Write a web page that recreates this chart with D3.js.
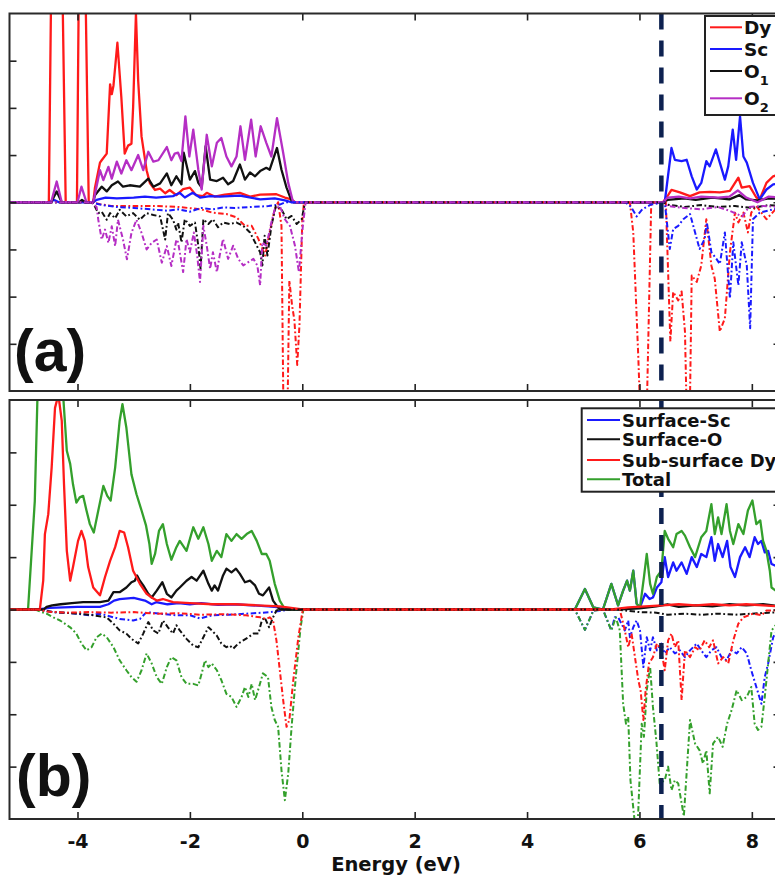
<!DOCTYPE html>
<html>
<head>
<meta charset="utf-8">
<script src="https://cdn.jsdelivr.net/npm/d3@7"></script>
<style>
  html, body { margin: 0; padding: 0; background: #fff; }
  svg { display: block; }
  text { font-family: "DejaVu Sans", "Liberation Sans", sans-serif; font-weight: bold; fill: #111; }
</style>
</head>
<body>
<svg id="chart" width="775" height="876"></svg>
<script>
// ---------- data: [energy (eV), DOS] pairs ----------
// Panel (a): spin up (solid) and spin down (dash-dot)
const dyUpA = [[-5.2,0],[-4.51,0],[-4.46,5.5],[-4.28,5.5],[-4.21,0],[-4.01,0],[-3.97,5.5],[-3.87,5.5],[-3.80,0],[-3.72,0],[-3.69,0.3],[-3.60,0.84],[-3.57,0.89],[-3.48,1.03],[-3.42,2.5],[-3.39,2.29],[-3.36,2.47],[-3.29,3.38],[-3.22,2.23],[-3.16,1.03],[-3.10,1.2],[-3.04,1.24],[-3.01,2.02],[-2.96,4.0],[-2.92,2.57],[-2.86,1.39],[-2.77,0.68],[-2.71,0.4],[-2.62,0.26],[-2.53,0.29],[-2.44,0.19],[-2.36,0.26],[-2.24,0.15],[-2.12,0.28],[-2.0,0.31],[-1.89,0.15],[-1.77,0.13],[-1.70,0.2],[-1.56,0.12],[-1.38,0.16],[-1.11,0.2],[-0.93,0.12],[-0.75,0.16],[-0.46,0.17],[-0.31,0.1],[-0.19,0.06],[-0.13,0],[6.42,0],[6.51,0.15],[6.57,0.26],[6.72,0.21],[6.90,0.13],[7.07,0.21],[7.25,0.22],[7.43,0.21],[7.61,0.24],[7.76,0.52],[7.82,0.31],[7.96,0.34],[8.08,0.1],[8.14,0.06],[8.26,0.41],[8.38,0.55],[8.5,0.6]];
const scUpA = [[-5.2,0],[-4.5,0],[-4.42,0.05],[-4.33,0],[-3.72,0],[-3.66,0.05],[-3.5,0.1],[-3.3,0.08],[-3.0,0.1],[-2.8,0.12],[-2.6,0.1],[-2.3,0.13],[-2.18,0.2],[-2.09,0.1],[-1.95,0.2],[-1.82,0.1],[-1.64,0.13],[-1.47,0.12],[-1.11,0.14],[-0.75,0.06],[-0.49,0.08],[-0.31,0.04],[-0.19,0],[6.45,0],[6.57,1.15],[6.63,0.9],[6.75,0.87],[6.84,0.9],[6.93,0.55],[7.02,0.27],[7.10,0.41],[7.19,0.87],[7.25,0.76],[7.36,1.12],[7.43,0.84],[7.52,0.48],[7.58,0.76],[7.66,1.54],[7.72,0.9],[7.79,1.82],[7.85,0.97],[7.91,0.84],[8.02,0.41],[8.14,0.06],[8.26,0.27],[8.38,0.38],[8.5,0.4]];
const o1UpA = [[-5.2,0],[-4.47,0],[-4.37,0.23],[-4.28,0],[-3.97,0],[-3.92,0.05],[-3.86,0],[-3.72,0],[-3.69,0.15],[-3.57,0.33],[-3.48,0.23],[-3.39,0.36],[-3.28,0.44],[-3.19,0.33],[-3.07,0.36],[-2.89,0.33],[-2.74,0.5],[-2.65,0.33],[-2.53,0.4],[-2.41,0.61],[-2.33,0.36],[-2.24,0.55],[-2.15,0.38],[-2.11,1.05],[-2.0,0.48],[-1.91,0.66],[-1.85,0.41],[-1.79,0.31],[-1.72,1.19],[-1.64,0.48],[-1.52,0.45],[-1.41,0.52],[-1.32,0.38],[-1.23,0.45],[-1.11,0.8],[-1.02,0.48],[-0.93,0.63],[-0.84,0.55],[-0.75,0.66],[-0.64,0.73],[-0.58,0.69],[-0.45,1.15],[-0.37,0.69],[-0.28,0.31],[-0.19,0.03],[-0.15,0],[6.42,0],[6.5,0.05],[6.8,0.08],[7.0,0.05],[7.3,0.1],[7.6,0.06],[7.78,0.15],[7.9,0.06],[8.1,0.04],[8.3,0.08],[8.5,0.08]];
const o2UpA = [[-5.2,0],[-4.47,0],[-4.37,0.44],[-4.28,0],[-4.0,0],[-3.93,0.33],[-3.84,0],[-3.72,0],[-3.60,0.68],[-3.54,0.47],[-3.45,0.75],[-3.39,0.5],[-3.30,0.86],[-3.22,0.61],[-3.13,0.89],[-3.04,0.68],[-2.92,1.0],[-2.83,0.68],[-2.74,1.07],[-2.65,0.86],[-2.56,0.89],[-2.41,1.17],[-2.33,0.89],[-2.27,1.03],[-2.21,1.05],[-2.15,0.87],[-2.08,1.82],[-2.01,0.97],[-1.94,1.54],[-1.85,0.69],[-1.79,0.27],[-1.70,1.43],[-1.61,0.76],[-1.52,1.26],[-1.44,1.36],[-1.35,0.97],[-1.26,0.76],[-1.17,0.97],[-1.10,1.61],[-1.02,0.9],[-0.91,1.75],[-0.83,0.97],[-0.74,1.61],[-0.64,1.26],[-0.55,0.97],[-0.45,1.78],[-0.34,1.05],[-0.25,0.41],[-0.17,0.03],[-0.14,0],[6.42,0],[6.5,0.1],[6.7,0.12],[6.9,0.08],[7.1,0.12],[7.4,0.1],[7.6,0.12],[7.75,0.25],[7.9,0.1],[8.1,0.0],[8.3,0.12],[8.5,0.1]];
const dyDnA = [[-5.2,0],[-3.75,0],[-3.6,-0.04],[-3.4,-0.08],[-3.0,-0.08],[-2.6,-0.08],[-2.2,-0.1],[-1.8,-0.15],[-1.6,-0.22],[-1.35,-0.25],[-1.17,-0.32],[-1.02,-0.5],[-0.9,-0.5],[-0.78,-0.78],[-0.66,-1.13],[-0.58,-0.64],[-0.49,-0.15],[-0.43,0],[-0.37,-0.5],[-0.33,-5],[-0.27,-5],[-0.23,-1.66],[-0.18,-2.2],[-0.14,-2.5],[-0.09,-3.45],[-0.05,-2.6],[0.0,-0.4],[0.03,0],[5.83,0],[5.89,-0.64],[5.98,-3.3],[6.03,-5],[6.12,-5],[6.21,0],[6.47,0],[6.55,-2.95],[6.60,-1.9],[6.69,-2.08],[6.75,-1.89],[6.81,-2.74],[6.85,-5],[6.89,-5],[6.93,-1.55],[7.02,-1.69],[7.10,-1.34],[7.19,-0.36],[7.28,-1.34],[7.34,-1.62],[7.43,-2.74],[7.52,-2.46],[7.61,-1.06],[7.70,-0.22],[7.76,-0.43],[7.85,-0.22],[7.93,-0.64],[7.99,-0.22],[8.08,-0.08],[8.26,-0.36],[8.42,-0.15],[8.5,-0.1]];
const scDnA = [[-5.2,0],[-3.75,0],[-3.6,-0.05],[-3.3,-0.1],[-3.0,-0.12],[-2.7,-0.15],[-2.4,-0.18],[-2.2,-0.15],[-2.0,-0.2],[-1.8,-0.12],[-1.6,-0.15],[-1.4,-0.11],[-1.2,-0.12],[-0.9,-0.1],[-0.6,-0.08],[-0.4,-0.05],[-0.3,0],[5.75,0],[5.85,-0.1],[5.95,-0.3],[6.05,-0.15],[6.2,-0.05],[6.45,0],[6.54,-0.99],[6.60,-0.57],[6.69,-0.5],[6.78,-0.36],[6.90,-0.25],[6.99,-0.64],[7.07,-0.99],[7.16,-0.78],[7.20,-0.43],[7.28,-1.06],[7.37,-1.2],[7.43,-1.31],[7.52,-0.64],[7.61,-2.04],[7.67,-0.85],[7.76,-1.76],[7.82,-0.85],[7.91,-1.34],[7.97,-2.67],[8.02,-0.36],[8.14,-0.22],[8.38,-0.15],[8.5,-0.12]];
const o1DnA = [[-5.2,0],[-3.75,0],[-3.69,-0.09],[-3.63,-0.23],[-3.57,-0.2],[-3.48,-0.37],[-3.42,-0.23],[-3.33,-0.34],[-3.25,-0.16],[-3.13,-0.3],[-3.01,-0.23],[-2.89,-0.37],[-2.77,-0.23],[-2.65,-0.27],[-2.53,-0.3],[-2.44,-0.79],[-2.39,-0.23],[-2.30,-0.37],[-2.24,-0.58],[-2.21,-0.43],[-2.15,-0.85],[-2.09,-0.36],[-2.0,-0.5],[-1.91,-0.43],[-1.85,-0.92],[-1.81,-1.41],[-1.76,-0.36],[-1.67,-0.46],[-1.59,-0.36],[-1.50,-0.53],[-1.41,-0.43],[-1.29,-0.46],[-1.17,-0.43],[-1.05,-0.5],[-0.93,-0.64],[-0.81,-0.92],[-0.75,-1.06],[-0.71,-1.34],[-0.67,-0.71],[-0.62,-1.13],[-0.55,-0.5],[-0.47,-0.08],[-0.37,-0.15],[-0.28,-0.36],[-0.19,-0.29],[-0.10,-0.46],[-0.01,-0.36],[0.05,0],[6.42,0],[6.5,-0.05],[6.8,-0.1],[7.1,-0.06],[7.4,-0.1],[7.7,-0.08],[8.0,-0.12],[8.3,-0.06],[8.5,-0.08]];
const o2DnA = [[-5.2,0],[-3.75,0],[-3.66,-0.1],[-3.63,-0.37],[-3.57,-0.79],[-3.51,-0.58],[-3.45,-0.86],[-3.39,-0.51],[-3.33,-0.93],[-3.28,-0.37],[-3.19,-0.79],[-3.12,-1.21],[-3.04,-0.65],[-2.95,-0.37],[-2.86,-0.65],[-2.77,-1.0],[-2.68,-0.86],[-2.59,-0.79],[-2.50,-1.28],[-2.41,-0.93],[-2.33,-1.35],[-2.24,-0.79],[-2.21,-0.85],[-2.12,-1.48],[-2.06,-0.78],[-2.0,-1.06],[-1.93,-0.64],[-1.87,-1.13],[-1.82,-1.69],[-1.76,-0.5],[-1.70,-0.92],[-1.64,-1.41],[-1.59,-1.06],[-1.52,-1.48],[-1.47,-1.13],[-1.41,-0.78],[-1.32,-1.2],[-1.23,-0.92],[-1.14,-1.2],[-1.05,-1.34],[-0.96,-1.27],[-0.87,-1.2],[-0.80,-1.34],[-0.75,-1.76],[-0.71,-0.85],[-0.64,-0.92],[-0.55,-0.43],[-0.49,-0.15],[-0.40,-0.08],[-0.31,-0.36],[-0.22,-0.5],[-0.13,-0.92],[-0.06,-1.48],[0.01,-0.5],[0.06,0],[6.42,0],[6.5,-0.08],[6.8,-0.12],[7.1,-0.15],[7.4,-0.1],[7.6,-0.18],[7.83,-0.3],[7.95,-0.1],[8.2,-0.08],[8.5,-0.1]];

// Panel (b): spin up (solid) and spin down (dash-dot)
const scUpB = [[-5.2,0],[-4.7,0],[-4.5,0.03],[-4.0,0.05],[-3.6,0.05],[-3.45,0.1],[-3.35,0.17],[-3.25,0.2],[-3.0,0.22],[-2.8,0.17],[-2.68,0.1],[-2.6,0.14],[-2.4,0.1],[-2.2,0.12],[-2.0,0.1],[-1.8,0.12],[-1.5,0.09],[-1.2,0.1],[-0.9,0.08],[-0.6,0.06],[-0.4,0.04],[-0.25,0.02],[-0.1,0],[4.85,0],[5.03,0.39],[5.18,0.04],[5.35,0],[5.50,0.49],[5.62,0.08],[5.71,0.36],[5.78,0.55],[5.83,0.36],[5.89,0.74],[5.95,0.11],[6.01,0.04],[6.1,0.3],[6.18,0.2],[6.24,0.23],[6.31,0.42],[6.39,0.52],[6.45,1.0],[6.51,0.62],[6.60,0.9],[6.66,0.74],[6.75,0.9],[6.84,0.68],[6.93,1.0],[7.02,0.81],[7.10,1.06],[7.19,1.0],[7.28,1.38],[7.34,0.93],[7.40,1.25],[7.48,1.0],[7.56,1.31],[7.62,0.81],[7.70,0.62],[7.79,1.0],[7.88,1.19],[7.96,1.0],[8.05,1.38],[8.11,1.25],[8.17,1.31],[8.23,1.09],[8.29,1.12],[8.35,0.87],[8.5,0.8]];
const oUpB = [[-5.2,0],[-4.6,0],[-4.55,0.05],[-4.45,0.08],[-4.3,0.1],[-4.1,0.12],[-3.9,0.14],[-3.6,0.14],[-3.45,0.17],[-3.36,0.33],[-3.25,0.33],[-3.13,0.42],[-3.04,0.52],[-2.98,0.55],[-2.94,0.65],[-2.89,0.55],[-2.83,0.46],[-2.74,0.3],[-2.68,0.23],[-2.59,0.36],[-2.49,0.52],[-2.41,0.3],[-2.33,0.23],[-2.24,0.36],[-2.18,0.42],[-2.06,0.55],[-1.97,0.62],[-1.88,0.55],[-1.76,0.74],[-1.67,0.49],[-1.61,0.36],[-1.56,0.46],[-1.50,0.36],[-1.41,0.65],[-1.35,0.78],[-1.26,0.71],[-1.18,0.78],[-1.11,0.68],[-1.02,0.52],[-0.93,0.55],[-0.84,0.46],[-0.77,0.3],[-0.70,0.27],[-0.59,0.42],[-0.52,0.17],[-0.46,0.08],[-0.4,0],[5.6,0],[6.0,0.02],[6.3,0.06],[6.5,0.1],[6.7,0.05],[7.0,0.08],[7.3,0.06],[7.6,0.1],[7.9,0.08],[8.2,0.1],[8.5,0.06]];
const dyUpB = [[-5.2,0],[-4.67,0],[-4.61,0.55],[-4.58,1.44],[-4.52,1.82],[-4.46,2.71],[-4.40,3.85],[-4.34,4.1],[-4.28,3.6],[-4.24,2.39],[-4.19,1.12],[-4.13,0.55],[-4.08,0.81],[-3.99,1.31],[-3.93,1.5],[-3.87,1.31],[-3.81,0.81],[-3.72,0.42],[-3.60,0.27],[-3.51,0.62],[-3.42,0.93],[-3.33,1.19],[-3.25,1.5],[-3.17,1.47],[-3.10,1.19],[-3.01,0.74],[-2.89,0.49],[-2.77,0.3],[-2.68,0.23],[-2.59,0.17],[-2.48,0.2],[-2.30,0.14],[-2.0,0.12],[-1.6,0.1],[-1.2,0.1],[-0.8,0.08],[-0.4,0.06],[-0.2,0.03],[0.0,0],[5.5,0],[5.8,0.04],[6.1,0.06],[6.4,0.08],[6.7,0.1],[7.0,0.08],[7.3,0.1],[7.6,0.08],[7.9,0.1],[8.2,0.08],[8.5,0.06]];
const totUpB = [[-5.2,0],[-4.88,0],[-4.76,2.07],[-4.69,5],[-4.3,5],[-4.25,4.0],[-4.19,3.03],[-4.13,2.78],[-4.08,2.39],[-4.02,2.04],[-3.96,2.14],[-3.90,2.17],[-3.84,1.89],[-3.78,1.63],[-3.71,1.47],[-3.63,1.89],[-3.54,2.36],[-3.47,2.17],[-3.41,2.08],[-3.33,2.71],[-3.25,3.6],[-3.20,3.92],[-3.13,3.47],[-3.04,2.58],[-2.95,2.2],[-2.86,1.89],[-2.78,1.6],[-2.72,1.25],[-2.68,0.87],[-2.62,1.06],[-2.55,1.5],[-2.48,1.63],[-2.41,1.25],[-2.33,0.95],[-2.24,1.19],[-2.18,1.31],[-2.06,1.12],[-1.94,1.57],[-1.85,1.35],[-1.76,1.57],[-1.67,1.25],[-1.61,0.93],[-1.52,1.12],[-1.44,1.0],[-1.35,1.44],[-1.26,1.31],[-1.17,1.44],[-1.08,1.35],[-0.99,1.44],[-0.90,1.5],[-0.81,1.31],[-0.72,1.06],[-0.64,1.06],[-0.58,0.93],[-0.49,0.49],[-0.40,0.17],[-0.31,0.01],[-0.25,0],[4.85,0],[5.03,0.39],[5.18,0.04],[5.35,0],[5.50,0.49],[5.62,0.08],[5.71,0.36],[5.78,0.55],[5.83,0.36],[5.89,0.74],[5.95,0.11],[6.01,0.04],[6.08,0.62],[6.13,1.06],[6.19,0.49],[6.24,0.3],[6.31,0.62],[6.39,0.74],[6.45,1.5],[6.51,1.35],[6.60,1.19],[6.66,1.44],[6.75,1.5],[6.81,1.41],[6.90,1.19],[6.99,1.0],[7.10,1.38],[7.19,1.5],[7.28,2.01],[7.34,1.44],[7.40,1.76],[7.46,1.44],[7.55,2.01],[7.61,1.5],[7.67,1.25],[7.76,1.63],[7.85,1.44],[7.93,1.89],[8.01,2.08],[8.08,1.63],[8.15,1.7],[8.20,1.31],[8.26,1.12],[8.32,0.74],[8.35,0.42],[8.5,0.3]];
const scDnB = [[-5.2,0],[-4.7,0],[-4.55,-0.03],[-4.43,-0.05],[-4.0,-0.08],[-3.78,-0.11],[-3.6,-0.08],[-3.25,-0.18],[-3.01,-0.21],[-2.89,-0.18],[-2.77,-0.05],[-2.53,-0.08],[-2.24,-0.11],[-2.0,-0.11],[-1.82,-0.17],[-1.6,-0.11],[-1.3,-0.1],[-1.0,-0.08],[-0.7,-0.06],[-0.4,-0.03],[-0.2,0],[4.85,0],[5.03,-0.39],[5.18,-0.02],[5.35,0],[5.50,-0.4],[5.56,-0.15],[5.62,-0.15],[5.68,-0.27],[5.74,-0.4],[5.80,-0.21],[5.83,-0.53],[5.89,-0.34],[5.95,-0.21],[6.01,-0.4],[6.07,-1.1],[6.13,-0.53],[6.19,-0.78],[6.24,-0.53],[6.31,-0.78],[6.39,-0.65],[6.45,-0.84],[6.54,-0.72],[6.63,-0.84],[6.72,-0.78],[6.81,-0.91],[6.90,-0.78],[7.02,-0.65],[7.10,-0.78],[7.19,-0.91],[7.28,-0.78],[7.37,-0.72],[7.46,-0.91],[7.55,-0.97],[7.64,-0.78],[7.73,-0.84],[7.82,-0.72],[7.91,-0.84],[7.99,-1.16],[8.08,-1.48],[8.17,-1.8],[8.23,-1.29],[8.29,-1.03],[8.38,-0.53],[8.5,-0.3]];
const oDnB = [[-5.2,0],[-4.7,0],[-4.43,-0.05],[-3.96,-0.08],[-3.72,-0.11],[-3.48,-0.15],[-3.36,-0.27],[-3.25,-0.4],[-3.13,-0.46],[-3.04,-0.56],[-2.92,-0.65],[-2.83,-0.46],[-2.74,-0.24],[-2.65,-0.4],[-2.56,-0.46],[-2.48,-0.21],[-2.39,-0.34],[-2.30,-0.46],[-2.24,-0.3],[-2.18,-0.4],[-2.06,-0.56],[-1.94,-0.69],[-1.85,-0.72],[-1.76,-0.53],[-1.67,-0.34],[-1.61,-0.4],[-1.52,-0.5],[-1.44,-0.65],[-1.35,-0.72],[-1.29,-0.69],[-1.23,-0.75],[-1.14,-0.65],[-1.05,-0.59],[-0.96,-0.53],[-0.87,-0.46],[-0.78,-0.46],[-0.72,-0.21],[-0.67,-0.15],[-0.59,-0.34],[-0.52,-0.15],[-0.46,-0.02],[-0.4,0],[5.6,0],[6.0,-0.05],[6.3,-0.06],[6.5,-0.1],[6.8,-0.08],[7.1,-0.1],[7.4,-0.08],[7.7,-0.1],[8.0,-0.08],[8.3,-0.06],[8.5,-0.05]];
const dyDnB = [[-5.2,0],[-4.7,0],[-4.55,-0.04],[-4.2,-0.06],[-3.8,-0.05],[-3.4,-0.06],[-3.0,-0.05],[-2.6,-0.08],[-2.2,-0.07],[-1.8,-0.1],[-1.4,-0.09],[-1.0,-0.11],[-0.75,-0.15],[-0.64,-0.18],[-0.58,-0.15],[-0.52,-0.21],[-0.46,-0.59],[-0.40,-1.16],[-0.34,-1.73],[-0.28,-2.24],[-0.23,-2.11],[-0.16,-1.35],[-0.07,-0.53],[0.01,0],[5.65,0],[5.74,-0.4],[5.80,-0.72],[5.86,-0.46],[5.92,-0.91],[5.98,-1.35],[6.02,-1.54],[6.07,-2.11],[6.11,-1.54],[6.17,-1.03],[6.24,-0.91],[6.31,-0.65],[6.39,-0.78],[6.45,-1.16],[6.51,-0.59],[6.57,-0.46],[6.63,-0.72],[6.69,-0.59],[6.75,-1.73],[6.81,-0.78],[6.90,-0.91],[6.99,-0.72],[7.07,-0.78],[7.16,-0.59],[7.24,-0.72],[7.31,-0.59],[7.40,-1.03],[7.49,-0.91],[7.58,-1.03],[7.67,-0.59],[7.76,-0.27],[7.85,-0.15],[8.02,-0.08],[8.17,-0.11],[8.26,-0.02],[8.5,-0.02]];
const totDnB = [[-5.2,0],[-4.75,0],[-4.64,-0.05],[-4.55,-0.08],[-4.43,-0.15],[-4.31,-0.21],[-4.13,-0.34],[-4.02,-0.46],[-3.93,-0.65],[-3.84,-0.78],[-3.75,-0.72],[-3.66,-0.53],[-3.57,-0.46],[-3.48,-0.53],[-3.36,-0.72],[-3.25,-0.97],[-3.13,-1.16],[-3.04,-1.29],[-2.95,-1.38],[-2.86,-1.16],[-2.77,-0.84],[-2.68,-1.03],[-2.59,-1.29],[-2.50,-1.42],[-2.41,-1.1],[-2.33,-0.91],[-2.24,-0.97],[-2.15,-1.29],[-2.06,-1.42],[-1.94,-1.42],[-1.85,-1.45],[-1.79,-1.22],[-1.73,-0.97],[-1.67,-1.1],[-1.61,-1.03],[-1.52,-1.16],[-1.44,-1.35],[-1.35,-1.61],[-1.26,-1.67],[-1.17,-1.86],[-1.08,-1.67],[-1.02,-1.48],[-0.96,-1.67],[-0.90,-1.42],[-0.84,-1.73],[-0.77,-1.48],[-0.70,-1.22],[-0.61,-1.29],[-0.55,-1.86],[-0.49,-2.11],[-0.43,-2.24],[-0.37,-3.07],[-0.31,-3.64],[-0.25,-3.13],[-0.19,-2.24],[-0.11,-1.22],[-0.03,-0.34],[0.02,0],[4.85,0],[5.03,-0.39],[5.18,-0.02],[5.35,0],[5.50,-0.4],[5.58,-0.15],[5.65,-0.4],[5.71,-1.8],[5.76,-2.18],[5.80,-2.05],[5.84,-3.26],[5.92,-4.1],[5.97,-4.1],[6.04,-2.18],[6.08,-2.43],[6.13,-1.54],[6.19,-1.1],[6.24,-1.86],[6.30,-2.5],[6.36,-3.32],[6.45,-3.26],[6.51,-3.0],[6.57,-3.45],[6.63,-3.26],[6.69,-3.32],[6.79,-3.95],[6.90,-2.11],[6.99,-2.56],[7.07,-2.69],[7.13,-2.94],[7.19,-2.69],[7.25,-3.51],[7.31,-2.56],[7.40,-2.43],[7.48,-2.62],[7.56,-2.18],[7.64,-1.92],[7.73,-1.54],[7.82,-1.73],[7.91,-1.67],[7.99,-1.48],[8.05,-2.18],[8.11,-2.3],[8.17,-2.24],[8.23,-1.67],[8.29,-1.03],[8.35,-0.4],[8.5,-0.2]];

// Axis ticks and labels
const xTicks = [-4, -2, 0, 2, 4, 6, 8];
const yTicks = [-3, -2, -1, 0, 1, 2, 3];
const gapEdge = 6.39;        // conduction band onset marker (eV)
const legendA = ["Dy", "Sc", "O", "O"];
const legendASub = ["", "", "1", "2"];
const legendB = ["Surface-Sc", "Surface-O", "Sub-surface Dy", "Total"];
const panelLabels = ["(a)", "(b)"];
const xTitle = "Energy (eV)";

// ---------- drawing ----------
const C = { red: "#ff1a1a", blue: "#1a1aff", black: "#111111", purple: "#b52ec4", green: "#34a02c", navy: "#0d2150" };
const DASHDOT = "5.5,2.5,1.8,2.5";

const svg = d3.select("#chart");
const x = d3.scaleLinear().domain([-5.21, 8.51]).range([9.5, 780.5]);

// draw order: later entries sit on top
const panels = [
  { id: "a", top: 13.5, bottom: 391,
    series: [
      { d: dyUpA, c: C.red }, { d: scUpA, c: C.blue }, { d: o1UpA, c: C.black }, { d: o2UpA, c: C.purple },
      { d: dyDnA, c: C.red, dash: true }, { d: scDnA, c: C.blue, dash: true }, { d: o1DnA, c: C.black, dash: true }, { d: o2DnA, c: C.purple, dash: true }
    ] },
  { id: "b", top: 400, bottom: 819,
    series: [
      { d: scUpB, c: C.blue }, { d: scDnB, c: C.blue, dash: true },
      { d: totUpB, c: C.green }, { d: totDnB, c: C.green, dash: true },
      { d: oUpB, c: C.black }, { d: dyUpB, c: C.red },
      { d: oDnB, c: C.black, dash: true }, { d: dyDnB, c: C.red, dash: true }
    ] }
];

const defs = svg.append("defs");

panels.forEach((p, i) => {
  const y = d3.scaleLinear().domain([-4, 4]).range([p.bottom, p.top]);
  const x0 = x.range()[0], x1 = x.range()[1];

  defs.append("clipPath").attr("id", "clip-" + p.id)
    .append("rect").attr("x", x0).attr("y", p.top).attr("width", x1 - x0).attr("height", p.bottom - p.top);

  const g = svg.append("g");
  const plot = g.append("g").attr("clip-path", "url(#clip-" + p.id + ")");

  const line = d3.line().x(d => x(d[0])).y(d => y(d[1]));
  p.series.forEach(s => {
    plot.append("path")
      .attr("d", line(s.d))
      .attr("fill", "none")
      .attr("stroke", s.c)
      .attr("stroke-width", s.dash ? 2 : 2.3)
      .attr("stroke-linejoin", "round")
      .attr("stroke-dasharray", s.dash ? DASHDOT : null);
  });

  // band-edge marker
  plot.append("line")
    .attr("x1", x(gapEdge)).attr("x2", x(gapEdge))
    .attr("y1", p.top).attr("y2", p.bottom)
    .attr("stroke", C.navy).attr("stroke-width", 4.5)
    .attr("stroke-dasharray", "16,11");

  // ticks on all four sides, pointing inward
  const axStyle = sel => {
    sel.select(".domain").remove();
    sel.selectAll(".tick line").attr("stroke", "#222").attr("stroke-width", 1.6);
    sel.selectAll(".tick text")
      .style("font-family", "'DejaVu Sans', sans-serif")
      .style("font-weight", "bold").style("font-size", "19px").attr("fill", "#222");
  };
  const isBottomPanel = i === panels.length - 1;
  g.append("g").attr("transform", `translate(0,${p.bottom})`)
    .call(d3.axisBottom(x).tickValues(xTicks).tickSizeInner(-7).tickSizeOuter(0).tickPadding(16)
      .tickFormat(isBottomPanel ? (d => String(d)) : () => ""))
    .call(axStyle);
  g.append("g").attr("transform", `translate(0,${p.top})`)
    .call(d3.axisTop(x).tickValues(xTicks).tickSizeInner(-7).tickSizeOuter(0).tickFormat(() => ""))
    .call(axStyle);
  g.append("g").attr("transform", `translate(${x0},0)`)
    .call(d3.axisLeft(y).tickValues(yTicks).tickSizeInner(-7).tickSizeOuter(0).tickFormat(() => ""))
    .call(axStyle);
  g.append("g").attr("transform", `translate(${x1},0)`)
    .call(d3.axisRight(y).tickValues(yTicks).tickSizeInner(-7).tickSizeOuter(0).tickFormat(() => ""))
    .call(axStyle);

  // frame
  g.append("rect").attr("x", x0).attr("y", p.top).attr("width", x1 - x0).attr("height", p.bottom - p.top)
    .attr("fill", "none").attr("stroke", "#2a2a2a").attr("stroke-width", 2);

  // panel letter
  g.append("text").attr("x", i === 0 ? 14 : 16).attr("y", i === 0 ? 371 : 796)
    .style("font-family", "'Liberation Sans', Arial, sans-serif")
    .style("font-size", "59px").style("font-weight", "bold")
    .text(panelLabels[i]);
});

// x-axis title
svg.append("text").attr("x", 396).attr("y", 871).attr("text-anchor", "middle")
  .style("font-size", "19.5px").text(xTitle);

// legend (a)
{
  const lg = svg.append("g");
  lg.append("rect").attr("x", 705).attr("y", 16).attr("width", 80).attr("height", 99)
    .attr("fill", "#fff").attr("stroke", "#222").attr("stroke-width", 2);
  const rows = [27.3, 49, 71, 98.3];
  const cols = [C.red, C.blue, C.black, C.purple];
  legendA.forEach((t, k) => {
    lg.append("line").attr("x1", 710).attr("x2", 742).attr("y1", rows[k]).attr("y2", rows[k])
      .attr("stroke", cols[k]).attr("stroke-width", 2);
    const tx = lg.append("text").attr("x", 744).attr("y", rows[k] + 7).style("font-size", "18.5px");
    tx.append("tspan").text(t);
    if (legendASub[k]) tx.append("tspan").attr("dy", 7).style("font-size", "13px").text(legendASub[k]);
  });
}

// legend (b)
{
  const lg = svg.append("g");
  lg.append("rect").attr("x", 581.7).attr("y", 408.3).attr("width", 200).attr("height", 83.4)
    .attr("fill", "#fff").attr("stroke", "#222").attr("stroke-width", 2);
  const rows = [420, 439.3, 460, 479.3];
  const cols = [C.blue, C.black, C.red, C.green];
  legendB.forEach((t, k) => {
    lg.append("line").attr("x1", 587).attr("x2", 620).attr("y1", rows[k]).attr("y2", rows[k])
      .attr("stroke", cols[k]).attr("stroke-width", 2);
    lg.append("text").attr("x", 622).attr("y", rows[k] + 6.5).style("font-size", "18px").text(t);
  });
}
</script>
</body>
</html>
